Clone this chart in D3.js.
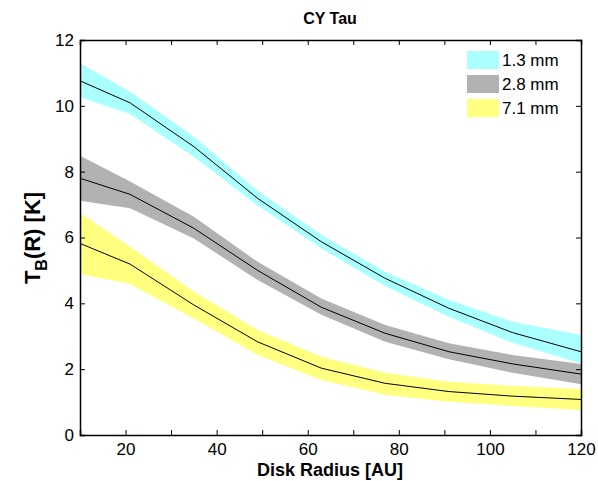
<!DOCTYPE html>
<html><head><meta charset="utf-8">
<script src="https://cdn.jsdelivr.net/npm/d3@7"></script>
<style>body{margin:0;background:#fff}svg{display:block;font-family:"Liberation Sans",Arial,sans-serif}</style>
</head><body><svg id="c" width="598" height="481"></svg>
<script>
const radius = [10, 21, 35, 49, 63, 77, 91, 105, 120];
const seriesNames = ["1.3 mm", "2.8 mm", "7.1 mm"];
const mid13 = [10.76, 10.09, 8.76, 7.19, 5.87, 4.76, 3.85, 3.11, 2.53];
const hi13  = [11.29, 10.43, 9.06, 7.42, 6.08, 4.96, 4.10, 3.44, 3.04];
const lo13  = [10.26, 9.75, 8.45, 6.97, 5.67, 4.53, 3.59, 2.80, 2.18];
const mid28 = [7.80, 7.31, 6.28, 5.00, 3.88, 3.09, 2.53, 2.16, 1.85];
const hi28  = [8.48, 7.70, 6.63, 5.26, 4.15, 3.34, 2.79, 2.43, 2.16];
const lo28  = [7.12, 6.89, 5.97, 4.71, 3.65, 2.83, 2.30, 1.89, 1.54];
const mid71 = [5.82, 5.19, 3.95, 2.83, 2.03, 1.57, 1.32, 1.18, 1.08];
const hi71  = [6.75, 5.72, 4.35, 3.19, 2.38, 1.89, 1.62, 1.49, 1.40];
const lo71  = [4.89, 4.59, 3.54, 2.43, 1.67, 1.22, 1.01, 0.88, 0.76];
const xTicks = [20, 40, 60, 80, 100, 120];
const yTicks = [0, 2, 4, 6, 8, 10, 12];
const colors = ["#aaffff", "#b2b2b2", "#ffff80"];

const series = [
  {name: seriesNames[0], mid: mid13, hi: hi13, lo: lo13, color: colors[0]},
  {name: seriesNames[1], mid: mid28, hi: hi28, lo: lo28, color: colors[1]},
  {name: seriesNames[2], mid: mid71, hi: hi71, lo: lo71, color: colors[2]}
];

const svg = d3.select("#c");
const L = 80, R = 581, T = 40, B = 435;
const x = d3.scaleLinear().domain([10, 120]).range([L, R]);
const y = d3.scaleLinear().domain([0, 12]).range([B, T]);

const area = d3.area().x((d,i)=>x(radius[i])).y0(d=>y(d[0])).y1(d=>y(d[1]));
const line = d3.line().x((d,i)=>x(radius[i])).y(d=>y(d));

series.forEach(s => {
  svg.append("path").datum(s.lo.map((v,i)=>[v, s.hi[i]]))
    .attr("d", area).attr("fill", s.color).attr("stroke", "none");
});
series.forEach(s => {
  svg.append("path").datum(s.mid).attr("d", line)
    .attr("fill", "none").attr("stroke", "#000").attr("stroke-width", 1);
});

// axes box with inward ticks
const tickLen = 5;
const minorX = d3.range(20, 121, 10);
const gx = svg.append("g").attr("transform", `translate(0,${B})`)
  .call(d3.axisBottom(x).tickValues(minorX).tickSize(-tickLen).tickPadding(8)
    .tickFormat(d => xTicks.includes(d) ? d : ""));
const gxt = svg.append("g").attr("transform", `translate(0,${T})`)
  .call(d3.axisTop(x).tickValues(minorX).tickSize(-tickLen).tickFormat(""));
const gy = svg.append("g").attr("transform", `translate(${L},0)`)
  .call(d3.axisLeft(y).tickValues(yTicks).tickSize(-tickLen).tickPadding(6));
const gyr = svg.append("g").attr("transform", `translate(${R},0)`)
  .call(d3.axisRight(y).tickValues(yTicks).tickSize(-tickLen).tickFormat(""));
[gx, gxt, gy, gyr].forEach(g => {
  g.select(".domain").attr("stroke", "#000").attr("stroke-width", 1.5);
  g.selectAll(".tick line").attr("stroke", "#000").attr("stroke-width", 1);
  g.selectAll("text").attr("font-size", 17).attr("fill", "#000")
    .attr("font-family", "'Liberation Sans', Arial, sans-serif");
});

// title & labels
svg.append("text").attr("x", 330).attr("y", 24).attr("text-anchor", "middle")
  .attr("font-size", 16).attr("font-weight", "bold").text("CY Tau");
svg.append("text").attr("x", 330).attr("y", 476).attr("text-anchor", "middle")
  .attr("font-size", 18).attr("font-weight", "bold").text("Disk Radius [AU]");
const yl = svg.append("text").attr("transform", "translate(40,238) rotate(-90)")
  .attr("text-anchor", "middle").attr("font-size", 22).attr("font-weight", "bold");
yl.append("tspan").text("T");
yl.append("tspan").attr("font-size", 16).attr("dy", 7).text("B");
yl.append("tspan").attr("dy", -7).text("(R) [K]");

// legend
const lg = svg.append("g");
series.forEach((s, i) => {
  lg.append("rect").attr("x", 467).attr("y", 51 + i * 24).attr("width", 32).attr("height", 18)
    .attr("fill", s.color);
  lg.append("text").attr("x", 502).attr("y", 66 + i * 24).attr("font-size", 17)
    .text(s.name);
});
</script></body></html>
